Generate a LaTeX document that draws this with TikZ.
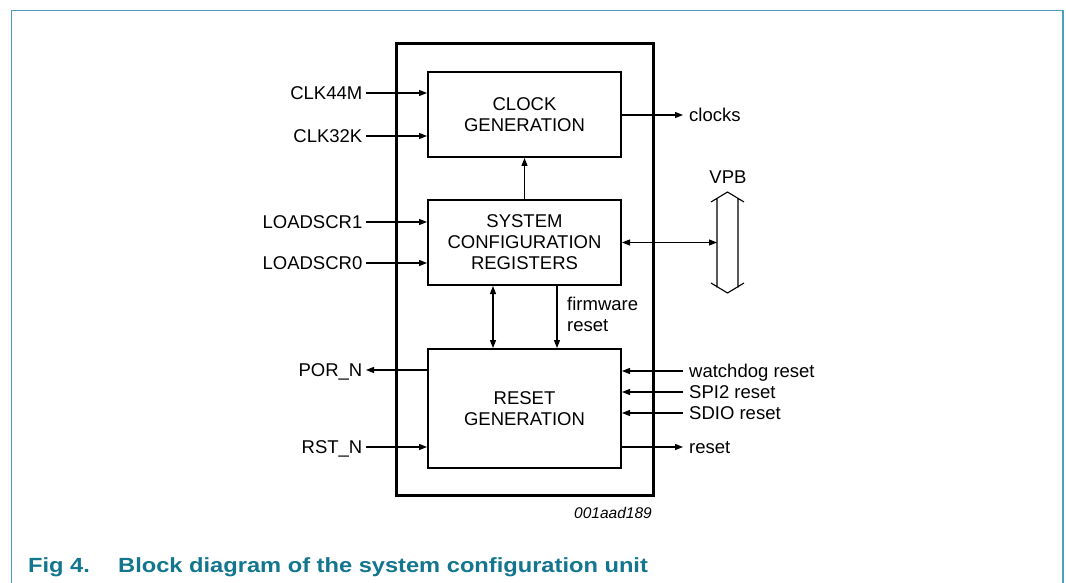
\documentclass[tikz,border=0pt]{standalone}
\usepackage{fontspec}
\setmainfont{Liberation Sans}
\usetikzlibrary{arrows.meta}
\definecolor{framec}{RGB}{74,160,190}
\definecolor{capc}{RGB}{18,118,143}
\newcommand\dfont{\fontsize{18.5}{21}\selectfont}
\begin{document}
\begin{tikzpicture}[x=1pt,y=-1pt,
  box/.style={draw, line width=2pt, minimum width=193pt, align=center, font=\dfont, inner sep=0pt},
  arr/.style={line width=1.1pt, -{Triangle[length=8pt,width=6pt]}},
  darr/.style={line width=1.1pt, {Triangle[length=8pt,width=6pt]}-{Triangle[length=8pt,width=6pt]}},
  lbl/.style={font=\dfont, inner ysep=0pt, inner xsep=3.5pt, text height=13.2pt, text depth=0pt},
  rlbl/.style={lbl, anchor=west, inner xsep=6pt},
]
\useasboundingbox (0,0) rectangle (1066,583);
% frame
\draw[framec, line width=1.5pt] (11.5,583) -- (11.5,10.5) -- (1063,10.5) -- (1063,583);
% outer box
\node[draw, line width=2.2pt, minimum width=257pt, minimum height=452pt, inner sep=0pt] (outer) at (525,269.5) {};
% blocks
\node[box, minimum height=85pt] (clk) at (524.5,114.5) {CLOCK\\GENERATION};
\node[box, minimum height=85pt] (sys) at (524.5,242.5) {SYSTEM\\CONFIGURATION\\REGISTERS};
\node[box, minimum height=119pt] (rst) at (524.5,408.5) {RESET\\GENERATION};
% left inputs
\node[lbl, anchor=east] (clkA) at (366,93) {CLK44M};
\node[lbl, anchor=east] (clkB) at (366,136) {CLK32K};
\node[lbl, anchor=east] (ld1) at (366,222) {LOADSCR1};
\node[lbl, anchor=east] (ld0) at (366,263) {LOADSCR0};
\node[lbl, anchor=east] (por) at (366,370) {POR\_N};
\node[lbl, anchor=east] (rstn) at (366,447) {RST\_N};
\draw[arr] (clkA.east) -- (clkA.east -| clk.west);
\draw[arr] (clkB.east) -- (clkB.east -| clk.west);
\draw[arr] (ld1.east) -- (ld1.east -| sys.west);
\draw[arr] (ld0.east) -- (ld0.east -| sys.west);
\draw[arr] (por.east -| rst.west) -- (por.east);
\draw[arr] (rstn.east) -- (rstn.east -| rst.west);
% right side
\node[rlbl] (clocks) at (683,115) {clocks};
\node[rlbl] (wd) at (683,371) {watchdog reset};
\node[rlbl] (spi) at (683,392) {SPI2 reset};
\node[rlbl] (sdio) at (683,413) {SDIO reset};
\node[rlbl] (rsto) at (683,447) {reset};
\draw[arr] (clocks.west -| clk.east) -- (clocks.west);
\draw[arr] (wd.west) -- (wd.west -| rst.east);
\draw[arr] (spi.west) -- (spi.west -| rst.east);
\draw[arr] (sdio.west) -- (sdio.west -| rst.east);
\draw[arr] (rsto.west -| rst.east) -- (rsto.west);
% internal
\draw[arr] (sys.north) -- (clk.south);
\coordinate (c1) at (493,0);
\coordinate (c2) at (557,0);
\draw[darr] (c1 |- sys.south) -- (c1 |- rst.north);
\draw[arr] (c2 |- sys.south) -- (c2 |- rst.north);
\node[font=\dfont, align=left, anchor=west, inner sep=0pt] (fw) at (567,314.5) {firmware\\reset};
% VPB bus
\draw[line width=1.1pt] (711,202) -- (727.5,192) -- (744,202)
  (717,198.4) -- (717,287.6) (738,198.4) -- (738,287.6)
  (711,283) -- (727.5,293) -- (744,283);
\coordinate (vpbL) at (717,242);
\node[lbl] (vpb) at (728,177) {VPB};
\draw[darr] (sys.east) -- (sys.east -| vpbL);
% id
\node[font=\fontsize{15.5}{18}\selectfont\itshape, anchor=base east, inner sep=0pt] (id) at (652,518) {001aad189};
% caption
\node[font=\fontsize{20.5}{24}\selectfont\bfseries, text=capc, anchor=base west, inner sep=0pt] (cap) at (28,572) {\scalebox{1.154}[1]{\makebox[78pt][l]{Fig 4.}Block diagram of the system configuration unit}};
\end{tikzpicture}
\end{document}
